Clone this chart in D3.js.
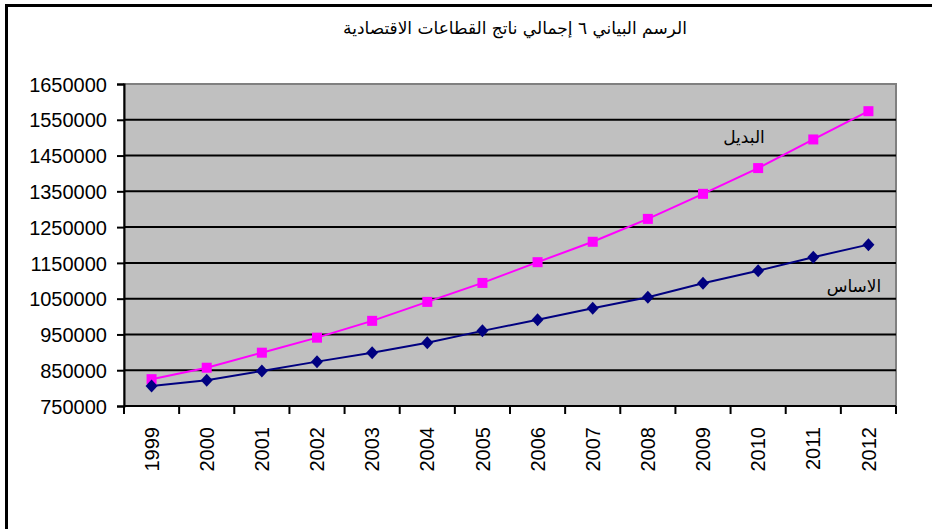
<!DOCTYPE html>
<html>
<head>
<meta charset="utf-8">
<script src="https://cdn.jsdelivr.net/npm/d3@7"></script>
<style>
  body { margin: 0; background: #fff; }
  svg { display: block; }
  .tick-label { font-family: "Liberation Sans", Arial, sans-serif; font-size: 20px; fill: #000; }
  .ar { font-family: "DejaVu Sans", sans-serif; fill: #000; }
</style>
</head>
<body>
<svg id="chart"></svg>
<script>
// data
const years = ['1999', '2000', '2001', '2002', '2003', '2004', '2005', '2006', '2007', '2008', '2009', '2010', '2011', '2012']
const baseValues = [806000, 822000, 848000, 874000, 899000, 927000, 960000, 991000, 1023000, 1054000, 1093000, 1128000, 1166000, 1201000]
const altValues = [825000, 857000, 899000, 941000, 988000, 1041000, 1094000, 1152000, 1209000, 1273000, 1343000, 1415000, 1495000, 1574000]
const yTicks = [750000, 850000, 950000, 1050000, 1150000, 1250000, 1350000, 1450000, 1550000, 1650000]
const title = 'الرسم البياني ٦ إجمالي ناتج القطاعات الاقتصادية'
const baseName = 'الاساس'
const altName = 'البديل'

const W = 932, H = 529
const margin = { left: 124, right: 36, top: 84, bottom: 123 }
const innerW = W - margin.left - margin.right
const innerH = H - margin.top - margin.bottom

const svg = d3.select('#chart').attr('width', W).attr('height', H)

// 外框
svg.append('rect')
  .attr('x', 6.5).attr('y', 5.5)
  .attr('width', W + 20).attr('height', H + 20)
  .attr('fill', 'none').attr('stroke', '#000').attr('stroke-width', 3)

// 标题
svg.append('text')
  .attr('class', 'ar')
  .attr('x', 515).attr('y', 34)
  .attr('text-anchor', 'middle')
  .attr('direction', 'rtl')
  .attr('font-size', 17)
  .text(title)

const g = svg.append('g').attr('transform', `translate(${margin.left},${margin.top})`)

// 比例尺
const x = d3.scaleBand().domain(years).range([0, innerW])
const y = d3.scaleLinear().domain([750000, 1650000]).range([innerH, 0])

// 灰色背景
g.append('rect')
  .attr('width', innerW).attr('height', innerH)
  .attr('fill', '#c0c0c0')
  .attr('stroke', '#808080').attr('stroke-width', 2)

// 网格线
g.selectAll('line.grid')
  .data(yTicks.slice(1, -1))
  .join('line')
  .attr('class', 'grid')
  .attr('x1', 0).attr('x2', innerW)
  .attr('y1', d => y(d)).attr('y2', d => y(d))
  .attr('stroke', '#000').attr('stroke-width', 2)

// y 轴
const yAxis = d3.axisLeft(y).tickValues(yTicks).tickSize(7).tickPadding(10).tickFormat(d3.format('d'))
const yAxisG = g.append('g').call(yAxis)
yAxisG.select('.domain').attr('stroke', '#000').attr('stroke-width', 2)
yAxisG.selectAll('.tick line').attr('stroke', '#000').attr('stroke-width', 2)
yAxisG.selectAll('.tick text').attr('class', 'tick-label').attr('dy', '0.36em')

// x 轴 (ticks at category boundaries)
const bounds = years.map(d => x(d)).concat([innerW])
const xAxisG = g.append('g').attr('transform', `translate(0,${innerH})`)
xAxisG.append('line')
  .attr('x1', 0).attr('x2', innerW)
  .attr('stroke', '#000').attr('stroke-width', 2)
xAxisG.selectAll('line.xt')
  .data(bounds)
  .join('line')
  .attr('class', 'xt')
  .attr('x1', d => d).attr('x2', d => d)
  .attr('y1', 0).attr('y2', 8)
  .attr('stroke', '#000').attr('stroke-width', 2)
xAxisG.selectAll('text')
  .data(years)
  .join('text')
  .attr('class', 'tick-label')
  .attr('transform', d => `translate(${x(d) + x.bandwidth() / 2},21) rotate(-90)`)
  .attr('text-anchor', 'end')
  .attr('dy', '0.36em')
  .text(d => d)

// 折线
const line = d3.line()
  .x((d, i) => x(years[i]) + x.bandwidth() / 2)
  .y(d => y(d))

g.append('path')
  .datum(altValues)
  .attr('d', line)
  .attr('fill', 'none').attr('stroke', '#ff00ff').attr('stroke-width', 2)

g.append('path')
  .datum(baseValues)
  .attr('d', line)
  .attr('fill', 'none').attr('stroke', '#000080').attr('stroke-width', 2)

// 标记
g.selectAll('rect.sq')
  .data(altValues)
  .join('rect')
  .attr('class', 'sq')
  .attr('x', (d, i) => x(years[i]) + x.bandwidth() / 2 - 5)
  .attr('y', d => y(d) - 5)
  .attr('width', 10).attr('height', 10)
  .attr('fill', '#ff00ff')

g.selectAll('path.dia')
  .data(baseValues)
  .join('path')
  .attr('class', 'dia')
  .attr('d', 'M0,-6.5L6,0L0,6.5L-6,0Z')
  .attr('transform', (d, i) => `translate(${x(years[i]) + x.bandwidth() / 2},${y(d)})`)
  .attr('fill', '#000080')

// 系列标签
g.append('text')
  .attr('class', 'ar')
  .attr('x', 744 - margin.left).attr('y', 143 - margin.top)
  .attr('text-anchor', 'middle')
  .attr('font-size', 17)
  .text(altName)

g.append('text')
  .attr('class', 'ar')
  .attr('x', 854 - margin.left).attr('y', 292 - margin.top)
  .attr('text-anchor', 'middle')
  .attr('font-size', 17)
  .text(baseName)
</script>
</body>
</html>
